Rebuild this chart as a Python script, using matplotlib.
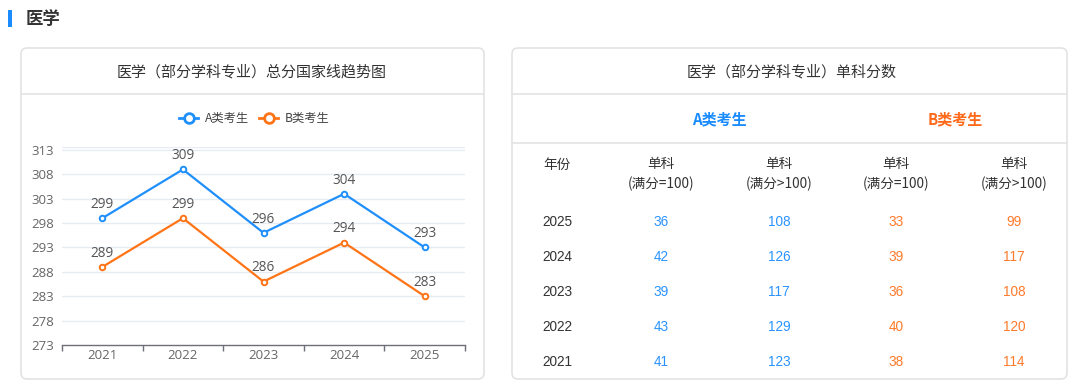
import matplotlib
matplotlib.use("Agg")
import matplotlib.pyplot as plt
from matplotlib.patches import FancyBboxPatch, Rectangle

plt.rcParams['font.family'] = ['Noto Sans CJK SC', 'DejaVu Sans']

# ---- data ----
years = ["2021", "2022", "2023", "2024", "2025"]
score_a = [299, 309, 296, 304, 293]
score_b = [289, 299, 286, 294, 283]
y_ticks = [273, 278, 283, 288, 293, 298, 303, 308, 313]

table_years = ["2025", "2024", "2023", "2022", "2021"]
a_single_100 = [36, 42, 39, 43, 41]
a_single_gt100 = [108, 126, 117, 129, 123]
b_single_100 = [33, 39, 36, 40, 38]
b_single_gt100 = [99, 117, 108, 120, 114]

section_title = "医学"
chart_title = "医学（部分学科专业）总分国家线趋势图"
table_title = "医学（部分学科专业）单科分数"
series_names = ["A类考生", "B类考生"]
col_headers = ["年份", "单科\n(满分=100)", "单科\n(满分>100)", "单科\n(满分=100)", "单科\n(满分>100)"]

BLUE = "#1f8ffb"
ORANGE = "#ff7417"
TBLUE = "#2a93ff"
TORANGE = "#ff7a2a"
DARK = "#333333"
GRAY = "#666666"
BORDER = "#e3e3e3"
NUMFONT = ["Open Sans", "Noto Sans CJK SC"]
TBLFONT = ["Liberation Sans", "Noto Sans CJK SC"]

W, H = 1080, 386
fig = plt.figure(figsize=(W / 100, H / 100), dpi=100)
fig.patch.set_facecolor("white")

# overlay axes in pixel coordinates (y down)
ov = fig.add_axes([0, 0, 1, 1])
ov.set_xlim(0, W)
ov.set_ylim(H, 0)
ov.axis("off")

# section header
ov.add_patch(Rectangle((8, 10), 4, 17, color="#1a8cff", lw=0))
ov.text(26, 19, section_title, fontsize=12.5, fontweight="bold", color=DARK,
        va="center", ha="left")

# cards
for x0, x1 in [(21, 484), (512, 1067)]:
    ov.add_patch(FancyBboxPatch((x0, 48), x1 - x0, 331,
                                boxstyle="round,pad=0,rounding_size=6",
                                fc="white", ec=BORDER, lw=1.2))
    ov.plot([x0, x1], [94, 94], color=BORDER, lw=1.2)

ov.text(252, 72, chart_title, fontsize=10.8, color=DARK, ha="center", va="center")
ov.text(792, 72, table_title, fontsize=10.8, color=DARK, ha="center", va="center")

# legend (chart)
for (lx, name, c) in [(179, series_names[0], BLUE), (259, series_names[1], ORANGE)]:
    ov.plot([lx, lx + 19], [118, 118], color=c, lw=2)
    ov.plot([lx + 9.5], [118], marker="o", ms=7, mfc="white", mec=c, mew=2)
    ov.text(lx + 26, 118, name, fontsize=8.8, color="#444444", ha="left", va="center")

# ---- line chart ----
ax = fig.add_axes([62 / W, (H - 345) / H, (465 - 62) / W, (345 - 147) / H])
ax.set_facecolor("none")
x = list(range(len(years)))
ax.set_xlim(-0.5, len(years) - 0.5)
ax.set_ylim(273, 313.6)
for t in y_ticks[1:]:
    ax.axhline(t, color="#e6ebf4", lw=1, zorder=0)
ax.axhline(313.6, color="#e6ebf4", lw=1, zorder=0)

for vals, c in [(score_a, BLUE), (score_b, ORANGE)]:
    ax.plot(x, vals, color=c, lw=1.6, marker="o", ms=4, mfc="white", mec=c, mew=1.4, zorder=3)
    for xi, v in zip(x, vals):
        ax.annotate(str(v), (xi, v), xytext=(0, 4.5), textcoords="offset points",
                    ha="center", va="bottom", fontsize=9.8, color="#555555", family=NUMFONT)

ax.set_yticks(y_ticks)
ax.set_yticklabels([str(t) for t in y_ticks], fontsize=9.5, color=GRAY, family=NUMFONT)
ax.set_xticks(x)
ax.set_xticklabels(years, fontsize=9.5, color=GRAY, family=NUMFONT)
ax.set_xticks([i - 0.5 for i in range(len(years) + 1)], minor=True)
ax.tick_params(axis="y", length=0, pad=6)
ax.tick_params(axis="x", which="major", length=0, pad=3)
ax.tick_params(axis="x", which="minor", length=4, color="#6e7079", width=1)
for s in ["top", "right", "left"]:
    ax.spines[s].set_visible(False)
ax.spines["bottom"].set_color("#6e7079")
ax.spines["bottom"].set_linewidth(1)

# ---- table ----
ov.text(719, 119, series_names[0], fontsize=10.8, fontweight="bold", color="#1a8cff",
        ha="center", va="center")
ov.text(955, 119, series_names[1], fontsize=10.8, fontweight="bold", color="#ff6a1a",
        ha="center", va="center")
ov.plot([512, 1067], [143, 143], color=BORDER, lw=1.2)

col_x = [557, 661, 779, 896, 1014]
ov.text(col_x[0], 165, col_headers[0], fontsize=9.8, color=DARK, ha="center", va="center")
for cx, hdr in zip(col_x[1:], col_headers[1:]):
    l1, l2 = hdr.split("\n")
    ov.text(cx, 164, l1, fontsize=9.8, color=DARK, ha="center", va="center")
    ov.text(cx, 184, l2, fontsize=9.8, color=DARK, ha="center", va="center")

row_y = [222, 257, 292, 327, 362]
cols = [(a_single_100, TBLUE), (a_single_gt100, TBLUE),
        (b_single_100, TORANGE), (b_single_gt100, TORANGE)]
for i, ry in enumerate(row_y):
    ov.text(col_x[0], ry, table_years[i], fontsize=9.8, color=DARK, ha="center", va="center",
            family=TBLFONT)
    for cx, (vals, c) in zip(col_x[1:], cols):
        ov.text(cx, ry, str(vals[i]), fontsize=9.8, color=c, ha="center", va="center",
                family=TBLFONT)

fig.savefig("out.png", dpi=100, facecolor="white")
